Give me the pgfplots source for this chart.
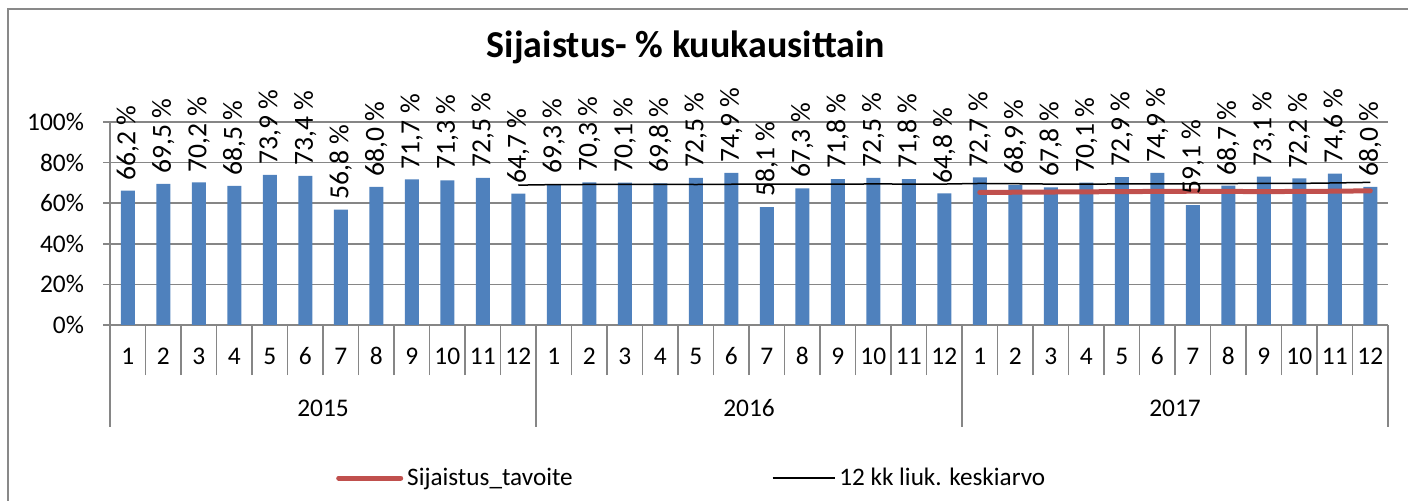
\documentclass[border=0pt]{standalone}
\usepackage{pgfplots}
\pgfplotsset{compat=1.18}
\usepackage{fontspec}
\setmainfont{Carlito}
\definecolor{barblue}{HTML}{4F81BD}
\definecolor{tavred}{HTML}{C0504D}
\definecolor{gridgray}{HTML}{868686}
\definecolor{framegray}{HTML}{898989}
\begin{document}
\begin{tikzpicture}[x=0.5pt,y=0.5pt]
\useasboundingbox (0,0) rectangle (1408,501);
% chart frame (left and top visible)
\draw[framegray, line width=1pt] (8,-20) -- (8,492) -- (1420,492);
% title
\node[font=\fontsize{19}{21}\selectfont\bfseries] at (686,454) {Sijaistus- \% kuukausittain};
\begin{axis}[
  at={(55pt,88pt)}, anchor=south west,
  scale only axis, width=639pt, height=101.5pt,
  xmin=-0.5, xmax=35.5, ymin=0, ymax=100,
  axis x line*=bottom, axis y line*=left,
  axis line style={gridgray, line width=0.75pt},
  ytick={0,20,40,60,80,100},
  yticklabel={\pgfmathprintnumber{\tick}\%},
  yticklabel style={xshift=-6pt},
  ymajorgrids, grid style={gridgray, line width=0.75pt},
  ytick style={gridgray, line width=0.75pt},
  tick align=outside, major tick length=3.5pt,
  xtick={0,...,35},
  xticklabels={1,2,3,4,5,6,7,8,9,10,11,12,1,2,3,4,5,6,7,8,9,10,11,12,1,2,3,4,5,6,7,8,9,10,11,12},
  x tick style={draw=none},
  xticklabel style={anchor=center, yshift=-12pt},
  extra x ticks={-0.5,0.5,...,35.5},
  extra x tick labels={},
  extra x tick style={x tick style={draw=gridgray, line width=0.75pt}, major tick length=25pt, tick align=outside, grid=none},
  ticklabel style={font=\fontsize{12.7}{14}\selectfont},
  /pgf/number format/assume math mode=true,
  clip=false,
  legend style={at={(axis description cs:0.172,-0.754)}, anchor=west, draw=none, fill=none,
    legend columns=2, font=\fontsize{12.6}{14}\selectfont,
    /tikz/every even column/.append style={column sep=97.5pt},
    legend cell align=left},
  legend image code/.code={\draw[#1] (0pt,0pt) -- (31pt,0pt);},
]
\addplot[ybar, bar width=7pt, fill=barblue, draw=none, forget plot,
  nodes near coords={\pgfmathprintnumber[fixed,fixed zerofill,precision=1,use comma,assume math mode=true]{\pgfplotspointmeta}~\%},
  nodes near coords style={rotate=90, anchor=west, inner xsep=5pt, inner ysep=0pt, font=\fontsize{13.8}{15}\selectfont, black},
  point meta=y]
coordinates {
(0,66.2)(1,69.5)(2,70.2)(3,68.5)(4,73.9)(5,73.4)(6,56.8)(7,68.0)(8,71.7)(9,71.3)(10,72.5)(11,64.7)
(12,69.3)(13,70.3)(14,70.1)(15,69.8)(16,72.5)(17,74.9)(18,58.1)(19,67.3)(20,71.8)(21,72.5)(22,71.8)(23,64.8)
(24,72.7)(25,68.9)(26,67.8)(27,70.1)(28,72.9)(29,74.9)(30,59.1)(31,68.7)(32,73.1)(33,72.2)(34,74.6)(35,68.0)
};
\addplot[tavred, line width=2.5pt, line cap=round] coordinates {
(24,65.3)(25,65.4)(26,65.5)(27,65.6)(28,65.7)(29,65.8)(30,65.9)(31,65.8)(32,65.7)(33,65.8)(34,65.9)(35,66.1)
};
\addlegendentry{Sijaistus\_tavoite}
\addplot[black, line width=0.75pt] coordinates {
(11,68.89)(12,69.15)(13,69.22)(14,69.21)(15,69.32)(16,69.20)(17,69.33)(18,69.43)(19,69.38)(20,69.38)(21,69.48)(22,69.43)(23,69.43)
(24,69.72)(25,69.60)(26,69.41)(27,69.43)(28,69.47)(29,69.47)(30,69.55)(31,69.67)(32,69.78)(33,69.75)(34,69.98)(35,70.25)
};
\addlegendentry{12 kk liuk. keskiarvo}
% year separators
\draw[gridgray, line width=0.75pt] (axis cs:-0.5,0) -- ++(0pt,-51pt);
\draw[gridgray, line width=0.75pt] (axis cs:11.5,0) -- ++(0pt,-51pt);
\draw[gridgray, line width=0.75pt] (axis cs:23.5,0) -- ++(0pt,-51pt);
\draw[gridgray, line width=0.75pt] (axis cs:35.5,0) -- ++(0pt,-51pt);
\node[font=\fontsize{12.7}{14}\selectfont] at (axis cs:5.5,0) [yshift=-41.5pt] {2015};
\node[font=\fontsize{12.7}{14}\selectfont] at (axis cs:17.5,0) [yshift=-41.5pt] {2016};
\node[font=\fontsize{12.7}{14}\selectfont] at (axis cs:29.5,0) [yshift=-41.5pt] {2017};
\end{axis}
\end{tikzpicture}
\end{document}
